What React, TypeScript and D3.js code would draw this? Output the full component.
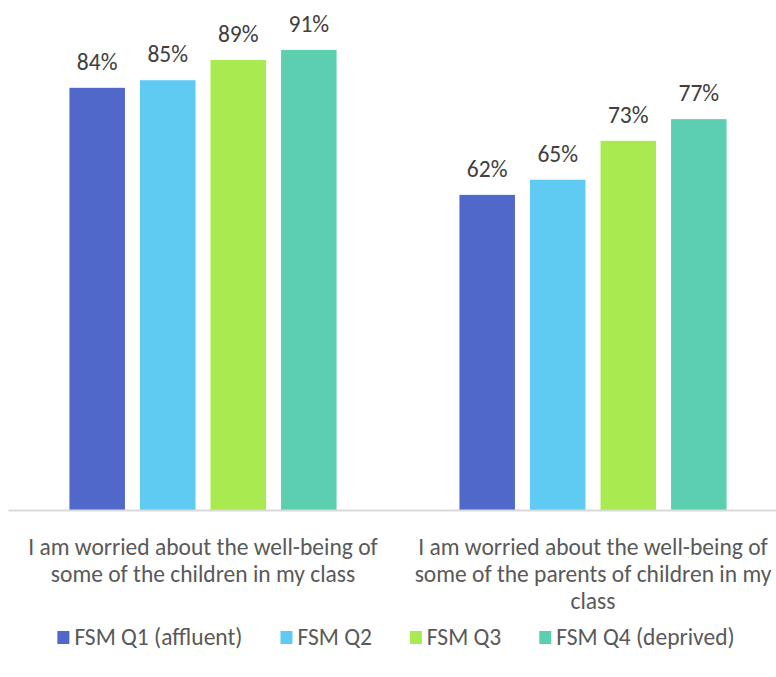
import { useEffect, useRef } from 'react';
import * as d3 from 'd3';

const categories = [
  'I am worried about the well-being of some of the children in my class',
  'I am worried about the well-being of some of the parents of children in my class',
];
const categoryLines = [
  ['I am worried about the well-being of', 'some of the children in my class'],
  ['I am worried about the well-being of', 'some of the parents of children in my', 'class'],
];
const series = ['FSM Q1 (affluent)', 'FSM Q2', 'FSM Q3', 'FSM Q4 (deprived)'];
const colors = ['#4F68C9', '#5FCBF3', '#A9EA51', '#5DCFB1'];
const q1 = [83.6, 62.4];
const q2 = [85.1, 65.4];
const q3 = [89.1, 73.1];
const q4 = [91.1, 77.4];
const seriesValues = [q1, q2, q3, q4];

const WIDTH = 776;
const HEIGHT = 677;
const FONT = 'Carlito, Calibri, Lato, sans-serif';
const FONT_SIZE = 23.5;

const App = () => {
  const svgRef = useRef<SVGSVGElement>(null);

  useEffect(() => {
    if (!svgRef.current) return;
    const svg = d3.select(svgRef.current);
    svg.selectAll('*').remove();

    const baseline = 510;

    // Scales
    const x0 = d3
      .scaleBand<string>()
      .domain(categories)
      .range([8, 788])
      .paddingInner(0.315)
      .paddingOuter(0.1575);

    const x1 = d3
      .scaleBand<string>()
      .domain(series)
      .range([0, x0.bandwidth()])
      .paddingInner(0.213);

    const y = d3.scaleLinear().domain([0, 100]).range([baseline, 5]);

    // Bars
    const groups = svg
      .selectAll('.group')
      .data(categories)
      .enter()
      .append('g')
      .attr('class', 'group')
      .attr('transform', d => `translate(${x0(d)},0)`);

    const cells = (_: string, i: number) =>
      series.map((s, j) => ({ s, j, v: seriesValues[j][i] }));

    groups
      .selectAll('rect')
      .data(cells)
      .enter()
      .append('rect')
      .attr('x', d => x1(d.s)!)
      .attr('y', d => y(d.v))
      .attr('width', x1.bandwidth())
      .attr('height', d => baseline - y(d.v))
      .attr('fill', d => colors[d.j]);

    // Data labels
    groups
      .selectAll('.label')
      .data(cells)
      .enter()
      .append('text')
      .attr('class', 'label')
      .attr('x', d => x1(d.s)! + x1.bandwidth() / 2)
      .attr('y', d => y(d.v) - 18)
      .attr('text-anchor', 'middle')
      .attr('font-family', FONT)
      .attr('font-size', FONT_SIZE)
      .attr('fill', '#404040')
      .text(d => `${Math.round(d.v)}%`);

    // X axis
    const xAxis = svg
      .append('g')
      .attr('transform', `translate(0,${baseline})`)
      .call(d3.axisBottom(x0).tickSize(0).tickFormat(() => ''));

    xAxis.select('.domain').attr('stroke', '#D9D9D9').attr('stroke-width', 2);

    xAxis.selectAll('.tick text').remove();
    xAxis
      .selectAll('.tick')
      .data(categories)
      .append('text')
      .attr('text-anchor', 'middle')
      .attr('font-family', FONT)
      .attr('font-size', FONT_SIZE)
      .attr('fill', '#595959')
      .each(function (_, i) {
        const t = d3.select(this);
        categoryLines[i].forEach((line, k) => {
          t.append('tspan').attr('x', 0).attr('y', 45 + k * 27).text(line);
        });
      });

    // Legend
    const legend = svg.append('g').attr('class', 'legend');
    const items = legend
      .selectAll('.item')
      .data(series)
      .enter()
      .append('g')
      .attr('class', 'item');

    items
      .append('rect')
      .attr('width', 12)
      .attr('height', 13)
      .attr('y', -14)
      .attr('fill', (_, i) => colors[i]);

    items
      .append('text')
      .attr('x', 17)
      .attr('font-family', FONT)
      .attr('font-size', FONT_SIZE)
      .attr('fill', '#595959')
      .text(d => d);

    const widths: number[] = [];
    items.select('text').each(function () {
      widths.push(17 + (this as SVGTextElement).getComputedTextLength());
    });
    const gap = 38;
    const total = d3.sum(widths) + gap * (widths.length - 1);
    let cx = 396 - total / 2;
    items.attr('transform', (_, i) => {
      const tx = cx;
      cx += widths[i] + gap;
      return `translate(${tx},645)`;
    });
  }, []);

  return (
    <svg
      ref={svgRef}
      width={WIDTH}
      height={HEIGHT}
      style={{ position: 'absolute', left: 0, top: 0, background: '#fff' }}
    />
  );
};

export default App;
